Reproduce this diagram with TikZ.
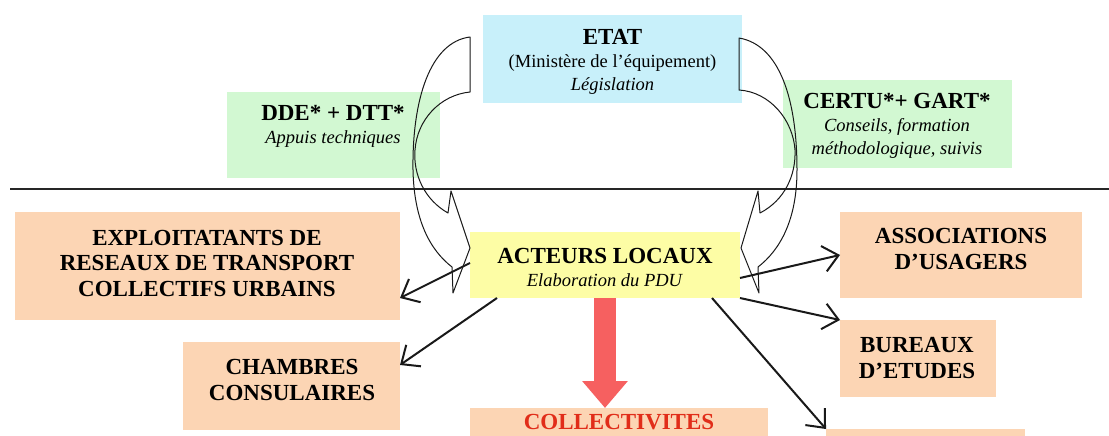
\documentclass[tikz,border=0pt]{standalone}
\usepackage{fontspec}
\setmainfont{Liberation Serif}
\usetikzlibrary{arrows.meta}
\definecolor{peach}{RGB}{252,213,180}
\definecolor{mintbox}{RGB}{210,248,210}
\definecolor{cyanbox}{RGB}{200,240,250}
\definecolor{yellowbox}{RGB}{253,253,165}
\definecolor{redarrow}{RGB}{246,96,96}
\definecolor{redtext}{RGB}{225,45,25}
\newcommand\headtxt[1]{{\fontsize{23}{24}\selectfont\bfseries #1}}
\begin{document}
\begin{tikzpicture}[x=1pt,y=-1pt,
  box/.style={inner sep=0pt, outer sep=0pt},
  txt/.style={align=center, inner sep=0pt, font=\fontsize{18.5}{23}\selectfont},
  bigtxt/.style={align=center, inner sep=0pt, font=\fontsize{23}{25.5}\selectfont\bfseries},
  curvearrow/.style={draw=black!90, line width=1pt, line join=round},
  conn/.style={draw=black!90, line width=2pt, -{Straight Barb[length=15pt,width=26pt]}},
  bigarrow/.style={draw=redarrow, line width=22pt, -{Triangle[length=27pt,width=44pt]}}]
\useasboundingbox (0,0) rectangle (1109,436);
\clip (0,0) rectangle (1109,436);
\fill[white] (0,0) rectangle (1109,436);

% boxes
\node[box, fill=cyanbox, minimum width=259pt, minimum height=88pt] (etat) at (612.5,59) {};
\node[box, fill=mintbox, minimum width=213pt, minimum height=86pt] (dde) at (333.5,135) {};
\node[box, fill=mintbox, minimum width=229pt, minimum height=88pt] (certu) at (897.5,124) {};
\node[box, fill=peach, minimum width=385pt, minimum height=108pt] (exploit) at (207.5,266) {};
\node[box, fill=peach, minimum width=217pt, minimum height=88pt] (chambres) at (291.5,386) {};
\node[box, fill=yellowbox, minimum width=270pt, minimum height=66pt] (acteurs) at (605,265) {};
\node[box, fill=peach, minimum width=242pt, minimum height=86pt] (assoc) at (961,255) {};
\node[box, fill=peach, minimum width=156pt, minimum height=77pt] (bureaux) at (918,358.5) {};
\node[box, fill=peach, minimum width=298pt, minimum height=60pt] (collect) at (619,438) {};
\node[box, fill=peach, minimum width=199pt, minimum height=60pt] (other) at (925.5,459) {};

% texts
\node[txt] (etat-t) at (612.5,62) {\headtxt{ETAT}\\(Ministère de l’équipement)\\\textit{Législation}};
\node[txt] (dde-t) at (333,126) {\headtxt{DDE* + DTT*}\\\textit{Appuis techniques}};
\node[txt] (certu-t) at (897,126) {\headtxt{CERTU*+ GART*}\\\textit{Conseils, formation}\\\textit{méthodologique, suivis}};
\node[bigtxt] (exploit-t) at (207,263) {EXPLOITATANTS DE\\RESEAUX DE TRANSPORT\\COLLECTIFS URBAINS};
\node[bigtxt] (chambres-t) at (292,380) {CHAMBRES\\CONSULAIRES};
\node[txt] (acteurs-t) at (605,267) {\headtxt{ACTEURS LOCAUX}\\\textit{Elaboration du PDU}};
\node[bigtxt] (assoc-t) at (961,249) {ASSOCIATIONS\\D’USAGERS};
\node[bigtxt] (bureaux-t) at (917,358) {BUREAUX\\D’ETUDES};
\node[bigtxt, text=redtext, anchor=north] (collect-t) at (619,414) {COLLECTIVITES};

% separator line
\coordinate (sepL) at (10,189);
\coordinate (sepR) at (1109,189);
\draw[line width=1.4pt, black!85] (sepL) -- (sepR);

% curved block arrows
\draw[curvearrow] (470,37) .. controls (430,42) and (412,100) .. (413,170)
  .. controls (414,220) and (430,250) .. (452,267)
  -- (453,293) -- (470,248) -- (451,191) -- (448,213)
  .. controls (425,200) and (413,175) .. (415,150)
  .. controls (417,120) and (440,95) .. (470,92) -- cycle;
\draw[curvearrow] (739,38) .. controls (780,45) and (797,100) .. (797,170)
  .. controls (797,220) and (780,250) .. (758,267)
  -- (759,293) -- (741,248) -- (758,191) -- (760,213)
  .. controls (785,200) and (796,175) .. (795,150)
  .. controls (793,120) and (770,92) .. (739,90) -- cycle;

% connectors
\draw[conn] ([yshift=2pt]acteurs.west) -- ([yshift=22pt]exploit.south east);
\draw[conn] ([xshift=27pt]acteurs.south west) -- ([yshift=21pt]chambres.east);
\draw[conn] ([yshift=-13pt]acteurs.east) -- (assoc.west);
\draw[conn] (acteurs.south east) -- (bureaux.north west);
\draw[conn] ([xshift=-28pt]acteurs.south east) -- (other.north west);
\draw[bigarrow] (acteurs.south) -- (acteurs.south |- collect.north);
\end{tikzpicture}
\end{document}
